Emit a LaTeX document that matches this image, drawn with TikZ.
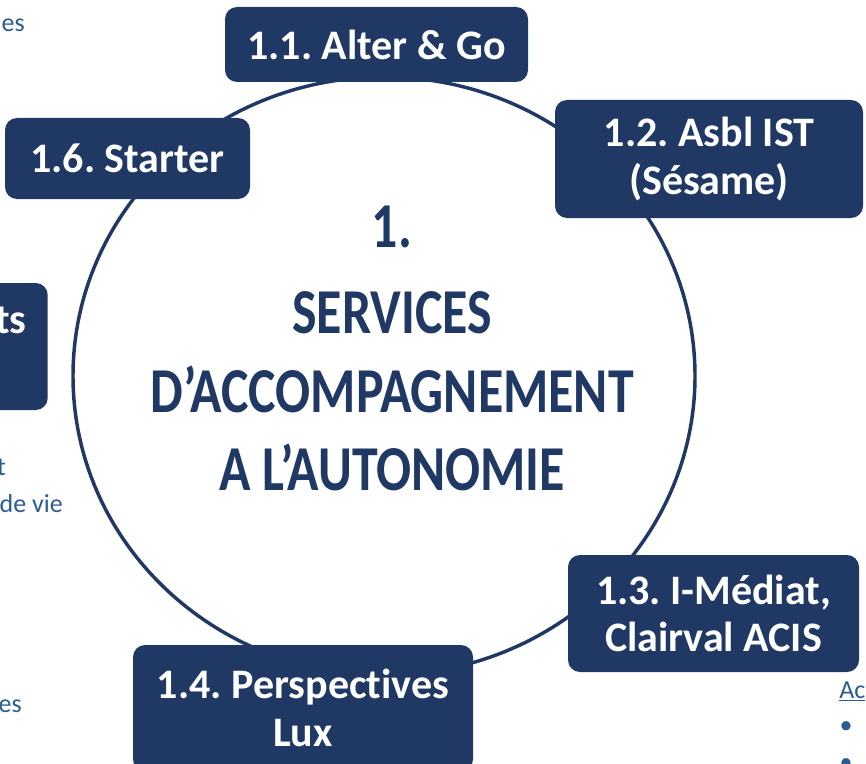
\documentclass[tikz,border=0pt]{standalone}
\usepackage{fontspec}
\setmainfont{Carlito}[Ligatures={NoCommon,TeX}]
\frenchspacing
\usetikzlibrary{shapes.geometric}
\definecolor{navy}{RGB}{32,56,100}
\definecolor{txtblue}{RGB}{43,92,143}
\begin{document}
\begin{tikzpicture}[x=0.75pt,y=-0.75pt,
  box/.style={rounded corners=9pt, fill=navy, text=white, font=\fontsize{31.5}{35.5}\selectfont\bfseries, align=center, inner sep=0pt},
  boxtext/.style={text=white, font=\fontsize{31.5}{35.5}\selectfont\bfseries, inner sep=0pt},
  ring/.style={ellipse, draw=navy, line width=2.6pt, minimum width=466.5pt, minimum height=448.5pt, inner sep=0pt},
  titleline/.style={text=navy, font=\fontsize{48}{48}\selectfont\bfseries, anchor=base, inner sep=0pt},
  side/.style={text=txtblue, font=\fontsize{19.5}{23}\selectfont, inner sep=0pt}
]
\useasboundingbox (0,0) rectangle (866,763);
\clip (0,0) rectangle (866,763);
\fill[white] (0,0) rectangle (866,763);

% central ring
\node[ring] (ring) at (384,376) {};

% title
\node[titleline] (t1) at (392,247) {\scalebox{0.81}[1]{1.}};
\node[titleline] (t2) at (392,333) {\scalebox{0.81}[1]{SERVICES}};
\node[titleline] (t3) at (392,412) {\scalebox{0.81}[1]{D’ACCOMPAGNEMENT}};
\node[titleline] (t4) at (392,490) {\scalebox{0.81}[1]{A L’AUTONOMIE}};

% boxes
\node[box, minimum width=227.25pt, minimum height=56.25pt] (b11) at (376.5,44.5) {1.1. Alter \& Go};
\node[box, minimum width=231pt, minimum height=88.5pt] (b12) at (709,159) {1.2. Asbl IST\\(Sésame)};
\node[box, minimum width=218.25pt, minimum height=87.75pt] (b13) at (713.5,613.5) {1.3. I-Médiat,\\Clairval ACIS};
\node[box, minimum width=255pt, minimum height=94.5pt] (b14) at (303,708) {1.4. Perspectives\\Lux};
\node[box, minimum width=183.75pt, minimum height=60.75pt] (b16) at (127.5,158.5) {1.6. Starter};
\node[box, anchor=east, minimum width=225pt, minimum height=95.25pt] (b15) at (48,346.5) {};
\node[boxtext, anchor=base east] (b15t) at (27,333) {ts};

% side texts
\node[side, anchor=base east] (s1) at (25,32) {es};
\node[side, anchor=base east] (s2) at (6,475) {t};
\node[side, anchor=base east] (s3) at (63,512) {de vie};
\node[side, anchor=base east] (s4) at (22,712) {es};
\node[side, anchor=base west] (s5) at (839,698) {\underline{Ac}};
\node[side] (bul1) at (846,728) {•};
\node[side] (bul2) at (846,765) {•};
\end{tikzpicture}
\end{document}
